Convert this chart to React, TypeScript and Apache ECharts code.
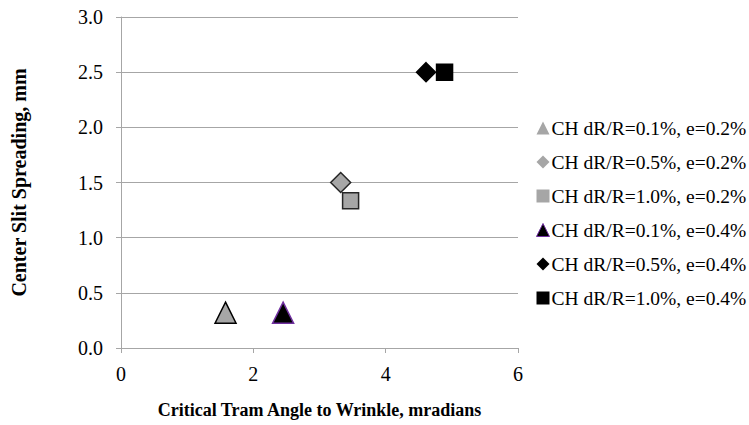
import React, { useEffect, useRef } from "react";
import * as echarts from "echarts";

const seriesNames = [
  "CH dR/R=0.1%, e=0.2%",
  "CH dR/R=0.5%, e=0.2%",
  "CH dR/R=1.0%, e=0.2%",
  "CH dR/R=0.1%, e=0.4%",
  "CH dR/R=0.5%, e=0.4%",
  "CH dR/R=1.0%, e=0.4%",
];
const xValues = [1.58, 3.32, 3.47, 2.45, 4.61, 4.89];
const yValues = [0.32, 1.5, 1.335, 0.32, 2.5, 2.5];
const symbols = ["triangle", "diamond", "rect", "triangle", "diamond", "rect"];
const symbolSizes = [21, 20, 16, 21, 19, 16];
const fills = ["#A6A6A6", "#A6A6A6", "#A6A6A6", "#000000", "#000000", "#000000"];
const borders = ["#000000", "#262626", "#262626", "#7030A0", "#000000", "#000000"];
const xTicks = [0, 2, 4, 6];
const yTicks = [0, 0.5, 1, 1.5, 2, 2.5, 3];

export default function App() {
  const ref = useRef<HTMLDivElement>(null);
  useEffect(() => {
    if (!ref.current) return;
    const chart = echarts.init(ref.current, undefined, { renderer: "svg" });
    const font = "'Liberation Serif', 'Times New Roman', serif";
    chart.setOption({
      animation: false,
      backgroundColor: "#ffffff",
      textStyle: { fontFamily: font },
      grid: { left: 121, top: 17, right: 231, bottom: 77, containLabel: false },
      xAxis: {
        type: "value",
        min: xTicks[0],
        max: xTicks[xTicks.length - 1],
        interval: 2,
        name: "Critical Tram Angle to Wrinkle, mradians",
        nameLocation: "middle",
        nameGap: 53,
        nameTextStyle: { fontFamily: font, fontSize: 18, fontWeight: "bold", color: "#000" },
        axisLine: { show: true, lineStyle: { color: "#A6A6A6", width: 1 } },
        axisTick: { show: true, inside: false, length: 5, lineStyle: { color: "#A6A6A6" } },
        axisLabel: { fontFamily: font, fontSize: 20, color: "#000", margin: 16 },
        splitLine: { show: false },
      },
      yAxis: {
        type: "value",
        min: yTicks[0],
        max: yTicks[yTicks.length - 1],
        interval: 0.5,
        name: "Center Slit Spreading, mm",
        nameLocation: "middle",
        nameGap: 92,
        nameRotate: 90,
        nameTextStyle: { fontFamily: font, fontSize: 20, fontWeight: "bold", color: "#000" },
        axisLine: { show: true, lineStyle: { color: "#A6A6A6", width: 1 } },
        axisTick: { show: true, inside: false, length: 5, lineStyle: { color: "#A6A6A6" } },
        axisLabel: {
          fontFamily: font,
          fontSize: 20,
          color: "#000",
          margin: 18,
          formatter: (v: number) => v.toFixed(1),
        },
        splitLine: { show: true, lineStyle: { color: "#A6A6A6", width: 1 } },
      },
      legend: {
        orient: "vertical",
        left: 531,
        top: 113,
        itemWidth: 13,
        itemHeight: 13,
        itemGap: 14,
        textStyle: { fontFamily: font, fontSize: 19.5, lineHeight: 20, color: "#000", padding: [0, 0, 0, -3] },
        data: seriesNames.map((n, i) => ({
          name: n,
          icon: symbols[i],
          itemStyle: {
            color: fills[i],
            borderColor: i === 3 ? "#7030A0" : fills[i],
            borderWidth: i === 3 ? 1 : 0,
          },
        })),
      },
      series: seriesNames.map((n, i) => ({
        name: n,
        type: "scatter",
        symbol: symbols[i],
        symbolSize: symbolSizes[i],
        data: [[xValues[i], yValues[i]]],
        itemStyle: { color: fills[i], borderColor: borders[i], borderWidth: 1.5, opacity: 1 },
      })),
    });
    return () => chart.dispose();
  }, []);
  return <div ref={ref} style={{ width: 749, height: 425, position: "absolute", left: 0, top: 0 }} />;
}
